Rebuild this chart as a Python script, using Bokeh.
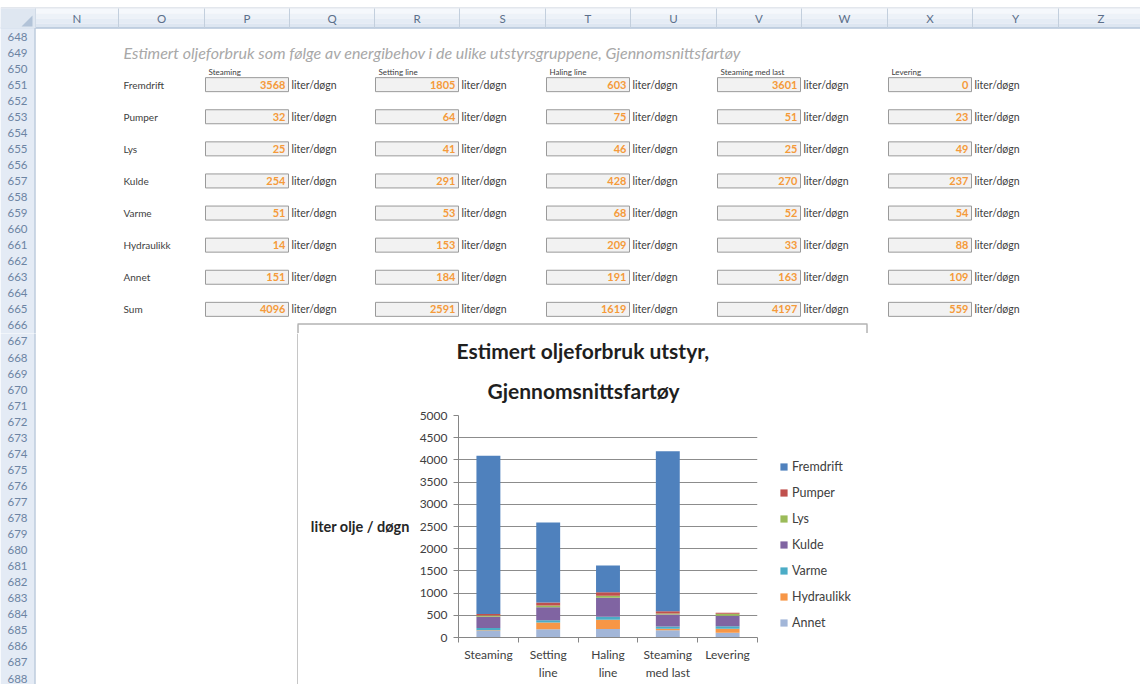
from bokeh.plotting import figure
from bokeh.layouts import column, row
from bokeh.models import (ColumnDataSource, Range1d, FixedTicker, SingleIntervalTicker,
                          Legend, LegendItem, Title)
from bokeh.core.properties import value
from bokeh.embed import file_html
from bokeh.resources import INLINE

# ---- data: estimated oil use per equipment group and operating mode (liter/døgn) ----
categories = ["Steaming", "Setting line", "Haling line", "Steaming med last", "Levering"]
tick_labels = ["Steaming", "Setting\nline", "Haling\nline", "Steaming\nmed last", "Levering"]
fremdrift = [3568, 1805, 603, 3601, 0]
pumper = [32, 64, 75, 51, 23]
lys = [25, 41, 46, 25, 49]
kulde = [254, 291, 428, 270, 237]
varme = [51, 53, 68, 52, 54]
hydraulikk = [14, 153, 209, 33, 88]
annet = [151, 184, 191, 163, 109]
sums = [4096, 2591, 1619, 4197, 559]

series_names = ["Fremdrift", "Pumper", "Lys", "Kulde", "Varme", "Hydraulikk", "Annet"]
series_values = [fremdrift, pumper, lys, kulde, varme, hydraulikk, annet]
series_colors = ["#4f81bd", "#c0504d", "#9bbb59", "#8064a2", "#4bacc6", "#f79646", "#a2b6d8"]

col_letters = list("NOPQRSTUVWXYZ")
first_row, last_row = 648, 688

# ---- sheet geometry (pixels) ----
PAGE_W, PAGE_H = 1140, 684
SPLIT_Y = 333                        # worksheet strip above / chart row below
CHART_X0, CHART_X1, CHART_Y0 = 298, 866, 324
FRAME_X0, FRAME_X1, FRAME_Y0, FRAME_Y1 = 458, 757, 415, 637
COL_EDGES = [35, 118, 204, 289, 374, 459, 545, 630, 716, 801, 887, 972, 1058, 1143]
HEAD_Y0, HEAD_Y1 = 8, 28
ROW_PITCH = 16.05
BOX_COLS = [2, 4, 6, 8, 10]          # P, R, T, V, X
TABLE_X = 123
FONT = "Lato"
GRID_GREY = "#8c8c8c"
TEXT_GREY = "#404040"


def row_y(r):
    return 36 + (r - first_row) * ROW_PITCH


def sheet_fig(x0, x1, y0, y1):
    p = figure(width=x1 - x0, height=y1 - y0,
               x_range=Range1d(x0, x1), y_range=Range1d(y1, y0),
               output_backend="svg", toolbar_location=None,
               x_axis_location=None, y_axis_location=None,
               min_border=0, outline_line_color=None,
               background_fill_color="white", border_fill_color="white")
    p.grid.visible = False
    try:
        p.frame_align = False
    except Exception:
        pass
    return p


def draw_row_header(p, r0, r1):
    p.quad(left=0, right=34, top=HEAD_Y1, bottom=PAGE_H, fill_color="#e4ebf5", line_color=None)
    p.segment(x0=34.5, y0=HEAD_Y1, x1=34.5, y1=PAGE_H, line_color="#9db2cc")
    rows = list(range(r0, r1 + 1))
    p.text(x=[17] * len(rows), y=[row_y(r) for r in rows], text=[str(r) for r in rows],
           text_align="center", text_baseline="middle", text_font=value(FONT),
           text_font_size="11.5px", text_color="#6c84a3")


# ---- worksheet above the chart ----
top = sheet_fig(0, PAGE_W, 0, SPLIT_Y)
top.segment(x0=0, x1=PAGE_W, y0=HEAD_Y0 - 0.5, y1=HEAD_Y0 - 0.5, line_color="#c6cfdb")
bands = ["#f5f8fc", "#edf2f8", "#e5ecf5", "#dde6f1"]
band_h = (HEAD_Y1 - HEAD_Y0) / len(bands)
top.quad(left=[0] * len(bands), right=[PAGE_W] * len(bands),
         top=[HEAD_Y0 + i * band_h for i in range(len(bands))],
         bottom=[HEAD_Y0 + (i + 1) * band_h for i in range(len(bands))],
         fill_color=bands, line_color=None)
top.segment(x0=0, x1=PAGE_W, y0=HEAD_Y1 - 0.5, y1=HEAD_Y1 - 0.5, line_color="#9eb4cd")
top.segment(x0=COL_EDGES, x1=COL_EDGES, y0=[HEAD_Y0] * len(COL_EDGES), y1=[HEAD_Y1] * len(COL_EDGES),
            line_color="#c3cfdd")
centers = [(a + b) / 2 for a, b in zip(COL_EDGES[:-1], COL_EDGES[1:])]
top.text(x=centers, y=[(HEAD_Y0 + HEAD_Y1) / 2] * len(centers), text=col_letters,
         text_align="center", text_baseline="middle", text_font=value(FONT),
         text_font_size="11.5px", text_color="#5b6f8a")
top.quad(left=0, right=35, top=HEAD_Y0, bottom=HEAD_Y1, fill_color="#dfe7f1", line_color=None)
top.patch(x=[21, 32, 32], y=[26, 26, 15], fill_color="#b2c3d8", line_color=None)
draw_row_header(top, first_row, 666)

top.text(x=[TABLE_X], y=[row_y(649)],
         text=["Estimert oljeforbruk som følge av energibehov i de ulike utstyrsgruppene, Gjennomsnittsfartøy"],
         text_baseline="middle", text_font=value(FONT), text_font_style="italic",
         text_font_size="16px", text_color="#a8a8a8")

line_names = series_names + ["Sum"]
line_values = series_values + [sums]
line_rows = [651 + 2 * k for k in range(len(line_names))]
top.text(x=[TABLE_X] * len(line_names), y=[row_y(r) for r in line_rows], text=line_names,
         text_baseline="middle", text_font=value(FONT), text_font_size="10px", text_color=TEXT_GREY)

box_left = [COL_EDGES[c] + 1 for c in BOX_COLS]
box_right = [COL_EDGES[c + 1] - 1 for c in BOX_COLS]
top.text(x=[b + 3 for b in box_left], y=[row_y(650) + 3] * len(categories), text=categories,
         text_baseline="middle", text_font=value(FONT), text_font_size="8px", text_color=TEXT_GREY)

bl, br, by, bv = [], [], [], []
for i in range(len(categories)):
    for k, vals in enumerate(line_values):
        bl.append(box_left[i])
        br.append(box_right[i])
        by.append(row_y(line_rows[k]))
        bv.append(str(vals[i]))
top.quad(left=bl, right=br, top=[y - 7 for y in by], bottom=[y + 7 for y in by],
         fill_color="#f2f2f2", line_color="#9a9a9a")
top.text(x=[r - 3 for r in br], y=by, text=bv, text_align="right", text_baseline="middle",
         text_font=value(FONT), text_font_style="bold", text_font_size="11px", text_color="#f59a3a")
top.text(x=[r + 3 for r in br], y=by, text=["liter/døgn"] * len(by), text_baseline="middle",
         text_font=value(FONT), text_font_size="10.5px", text_color=TEXT_GREY)
# upper part of the chart frame
top.segment(x0=[CHART_X0 - 1, CHART_X0 - 0.5, CHART_X1 + 0.5],
            x1=[CHART_X1 + 1, CHART_X0 - 0.5, CHART_X1 + 0.5],
            y0=[CHART_Y0 - 0.5, CHART_Y0, CHART_Y0],
            y1=[CHART_Y0 - 0.5, SPLIT_Y, SPLIT_Y], line_color=GRID_GREY)

# ---- worksheet left and right of the chart ----
left = sheet_fig(0, CHART_X0, SPLIT_Y, PAGE_H)
draw_row_header(left, 667, last_row)
left.segment(x0=CHART_X0 - 0.5, x1=CHART_X0 - 0.5, y0=SPLIT_Y, y1=PAGE_H, line_color=GRID_GREY)

right = sheet_fig(CHART_X1, PAGE_W, SPLIT_Y, PAGE_H)
right.segment(x0=CHART_X1 + 0.5, x1=CHART_X1 + 0.5, y0=SPLIT_Y, y1=PAGE_H, line_color=GRID_GREY)

# ---- stacked column chart ----
# each category occupies one unit slot; bars sit in the middle of their slot
slot_mid = [i + 0.5 for i in range(len(categories))]
slot_edges = list(range(len(categories) + 1))
src = ColumnDataSource(dict(pos=slot_mid, **{n: v for n, v in zip(series_names, series_values)}))
stack_order = series_names[::-1]
stack_colors = series_colors[::-1]

chart = figure(frame_width=FRAME_X1 - FRAME_X0, frame_height=FRAME_Y1 - FRAME_Y0,
               x_range=Range1d(0, len(categories)), y_range=Range1d(0, 5000),
               output_backend="svg", toolbar_location=None,
               title="Estimert oljeforbruk utstyr,",
               min_border_left=FRAME_X0 - CHART_X0, min_border_right=CHART_X1 - FRAME_X1,
               min_border_top=FRAME_Y0 - SPLIT_Y, min_border_bottom=PAGE_H - FRAME_Y1,
               outline_line_color=None, background_fill_color="white", border_fill_color="white")

bars = chart.vbar_stack(stack_order, x="pos", width=0.4, source=src,
                        fill_color=stack_colors, line_color=None)

yt = SingleIntervalTicker(interval=500, num_minor_ticks=0)
chart.yaxis.ticker = yt
chart.ygrid.ticker = yt
chart.ygrid.grid_line_color = GRID_GREY
chart.xgrid.visible = False
for ax in (chart.xaxis, chart.yaxis):
    ax.axis_line_color = "#868686"
    ax.major_label_text_font = FONT
    ax.major_label_text_font_size = "12px"
    ax.major_label_text_color = TEXT_GREY
chart.yaxis.major_tick_line_color = "#868686"
chart.yaxis.major_tick_out = 5
chart.yaxis.major_tick_in = 0
chart.yaxis.minor_tick_line_color = None
chart.yaxis.major_label_standoff = 6
chart.yaxis.axis_label = "liter olje / døgn"
chart.yaxis.axis_label_text_font = FONT
chart.yaxis.axis_label_text_font_size = "14.5px"
chart.yaxis.axis_label_text_font_style = "bold"
chart.yaxis.axis_label_text_color = "#262626"
chart.yaxis.axis_label_standoff = 7
try:
    chart.yaxis.axis_label_orientation = "horizontal"
except Exception:
    pass

# category names at slot centres, small tick marks at the slot boundaries
chart.xaxis.ticker = FixedTicker(ticks=slot_mid, minor_ticks=slot_edges)
chart.xaxis.major_label_overrides = {m: t for m, t in zip(slot_mid, tick_labels)}
chart.xaxis.major_tick_line_color = None
chart.xaxis.major_tick_out = 5
chart.xaxis.major_tick_in = 0
chart.xaxis.minor_tick_line_color = "#868686"
chart.xaxis.minor_tick_out = 5
chart.xaxis.minor_tick_in = 0
chart.xaxis.major_label_standoff = 4

# two-line chart heading, centred over the chart box
chart.title.align = "left"
chart.title.offset = -2
chart.title.text_font = FONT
chart.title.text_font_size = "21px"
chart.title.text_font_style = "bold"
chart.title.text_color = "#1f1f1f"
chart.title.standoff = 0
chart.add_layout(Title(text="Gjennomsnittsfartøy", align="left", offset=29, text_font=FONT,
                       text_font_size="21px", text_font_style="bold", text_color="#1f1f1f",
                       standoff=26), "above")

by_name = dict(zip(stack_order, bars))
legend = Legend(items=[LegendItem(label=n, renderers=[by_name[n]]) for n in series_names],
                location=(22, 7), orientation="vertical",
                border_line_color=None, background_fill_alpha=0,
                padding=0, margin=0, spacing=11,
                glyph_width=9, glyph_height=9, label_height=12, label_standoff=4,
                label_text_font=FONT, label_text_font_size="12.5px", label_text_color=TEXT_GREY)
chart.add_layout(legend, "right")

layout = column(top, row(left, chart, right))
open("out.html", "w").write(file_html(layout, INLINE))
